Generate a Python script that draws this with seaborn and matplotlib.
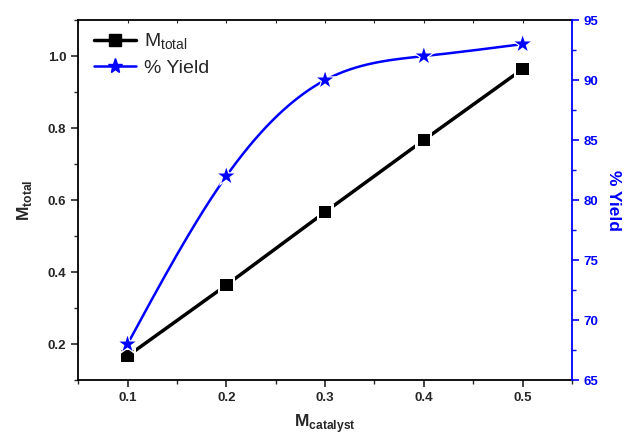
import numpy as np
import pandas as pd
import seaborn as sns
from matplotlib import pyplot as plt
from matplotlib.lines import Line2D
from matplotlib.ticker import MultipleLocator

# data
m_catalyst = [0.1, 0.2, 0.3, 0.4, 0.5]
m_total = [0.167, 0.364, 0.567, 0.767, 0.964]
pct_yield = [68, 82, 90, 92, 93]

BLUE = '#0000ff'


def natural_spline(x, y, num=200):
    # smooth connecting curve through the measured points (like Origin's spline line)
    x = np.asarray(x, float)
    y = np.asarray(y, float)
    n = len(x)
    h = np.diff(x)
    a = np.zeros((n, n))
    b = np.zeros(n)
    a[0, 0] = a[-1, -1] = 1
    for i in range(1, n - 1):
        a[i, i - 1] = h[i - 1]
        a[i, i] = 2 * (h[i - 1] + h[i])
        a[i, i + 1] = h[i]
        b[i] = 3 * ((y[i + 1] - y[i]) / h[i] - (y[i] - y[i - 1]) / h[i - 1])
    c = np.linalg.solve(a, b)
    xs = np.linspace(x[0], x[-1], num)
    idx = np.clip(np.searchsorted(x, xs) - 1, 0, n - 2)
    dx = xs - x[idx]
    bb = (y[idx + 1] - y[idx]) / h[idx] - h[idx] * (2 * c[idx] + c[idx + 1]) / 3
    dd = (c[idx + 1] - c[idx]) / (3 * h[idx])
    ys = y[idx] + bb * dx + c[idx] * dx ** 2 + dd * dx ** 3
    return xs, ys


sns.set_style('ticks')
plt.rcParams['font.family'] = ['Liberation Sans', 'DejaVu Sans']
plt.rcParams['mathtext.fontset'] = 'custom'
plt.rcParams['mathtext.rm'] = 'Liberation Sans'
plt.rcParams['mathtext.bf'] = 'Liberation Sans:bold'

df = pd.DataFrame({'x': m_catalyst, 'total': m_total, 'yield': pct_yield})
sx, sy = natural_spline(m_catalyst, pct_yield)
curve = pd.DataFrame({'x': sx, 'y': sy})

fig, ax = plt.subplots(figsize=(6.3, 4.37), dpi=100)
fig.subplots_adjust(left=0.124, right=0.908, top=0.954, bottom=0.130)
ax2 = ax.twinx()

# M_total
sns.lineplot(data=df, x='x', y='total', ax=ax, color='black', linewidth=2.5, zorder=2)
sns.scatterplot(data=df, x='x', y='total', ax=ax, marker='s', s=150, color='white',
                edgecolor='none', zorder=3)
sns.scatterplot(data=df, x='x', y='total', ax=ax, marker='s', s=80, color='black',
                edgecolor='none', zorder=4)

# % Yield
sns.lineplot(data=curve, x='x', y='y', ax=ax2, color=BLUE, linewidth=1.8, zorder=2)
sns.scatterplot(data=df, x='x', y='yield', ax=ax2, marker='*', s=320, color='white',
                edgecolor='none', zorder=3)
sns.scatterplot(data=df, x='x', y='yield', ax=ax2, marker='*', s=150, color=BLUE,
                edgecolor='none', zorder=4)

ax.set_xlim(0.05, 0.55)
ax.set_ylim(0.1, 1.1)
ax2.set_ylim(65, 95)

ax.xaxis.set_major_locator(MultipleLocator(0.1))
ax.xaxis.set_minor_locator(MultipleLocator(0.05))
ax.yaxis.set_major_locator(MultipleLocator(0.2))
ax.yaxis.set_minor_locator(MultipleLocator(0.1))
ax2.yaxis.set_major_locator(MultipleLocator(5))
ax2.yaxis.set_minor_locator(MultipleLocator(2.5))

ax.tick_params(axis='both', which='major', direction='out', length=5, width=1.2,
               labelsize=9.5)
ax.tick_params(axis='both', which='minor', direction='out', length=3, width=1.0)
ax.xaxis.set_ticks_position('both')
ax.tick_params(axis='x', which='both', labeltop=False)
# top axis: tiny inward ticks
for t in ax.xaxis.get_major_ticks() + ax.xaxis.get_minor_ticks():
    t.tick2line.set_marker(3)
    t.tick2line.set_markersize(2)
    t.tick2line.set_markeredgewidth(0.8)
for lbl in ax.get_xticklabels() + ax.get_yticklabels():
    lbl.set_fontweight('bold')
ax2.tick_params(axis='y', which='major', direction='out', length=5, width=1.2,
                labelsize=9.5, colors=BLUE)
ax2.tick_params(axis='y', which='minor', direction='out', length=3, width=1.0, colors=BLUE)
for lbl in ax2.get_yticklabels():
    lbl.set_fontweight('bold')

for s in ['left', 'bottom', 'top']:
    ax.spines[s].set_linewidth(1.3)
    ax.spines[s].set_color('black')
ax2.spines['right'].set_color(BLUE)
ax2.spines['right'].set_linewidth(1.3)
ax2.spines['left'].set_visible(False)
ax2.spines['top'].set_visible(False)
ax2.spines['bottom'].set_visible(False)
ax.spines['right'].set_visible(False)

ax.set_xlabel(r'$\mathbf{M}_{\mathbf{catalyst}}$', fontsize=12.5, labelpad=6)
ax.set_ylabel(r'$\mathbf{M}_{\mathbf{total}}$', fontsize=12.5, labelpad=10)
ax2.set_ylabel('% Yield', fontsize=12.5, fontweight='bold', color=BLUE, rotation=270,
               labelpad=16)

handles = [
    Line2D([], [], color='black', linewidth=2.5, marker='s', markersize=8),
    Line2D([], [], color=BLUE, linewidth=1.8, marker='*', markersize=11),
]
ax.legend(handles, [r'M$_{\mathrm{total}}$', '% Yield'], loc='upper left', frameon=False,
          fontsize=14, handlelength=2.2, numpoints=1, borderaxespad=0.4,
          labelspacing=0.35, handletextpad=0.4, bbox_to_anchor=(0.0, 1.01))

fig.savefig('out.png', dpi=100)
